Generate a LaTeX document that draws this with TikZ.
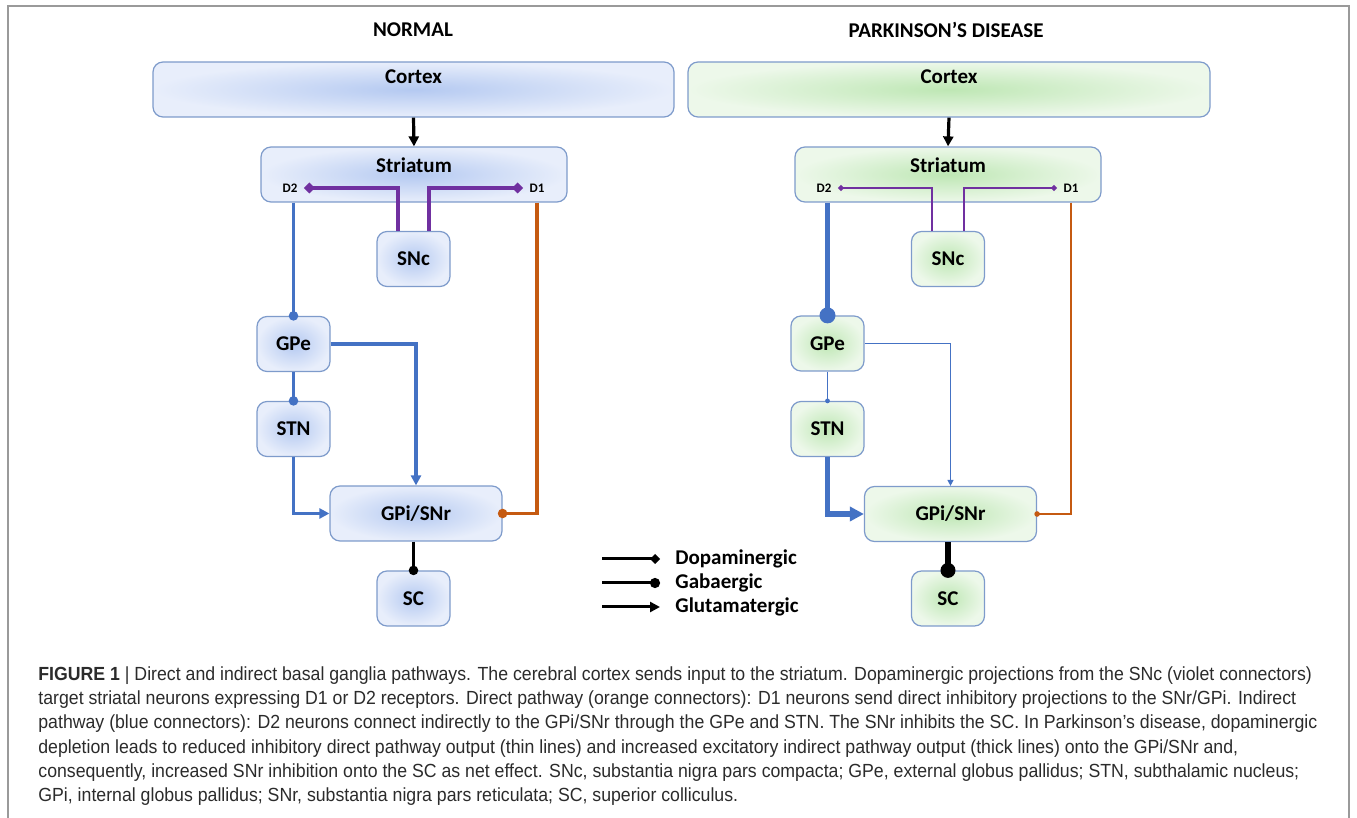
\documentclass[tikz,border=0pt]{standalone}
\usepackage{fontspec}
\setmainfont{Carlito}
\newfontfamily\capfont[FakeStretch=0.932]{Liberation Sans}
\usetikzlibrary{arrows.meta,calc}
\definecolor{boxline}{HTML}{7E9BCB}
\definecolor{bluein}{HTML}{B4C9F1}
\definecolor{blueout}{HTML}{E8EEFB}
\definecolor{greenin}{HTML}{BEE7B4}
\definecolor{greenout}{HTML}{EDF8EA}
\definecolor{indblue}{HTML}{4472C4}
\definecolor{dirorange}{HTML}{C55A11}
\definecolor{dopviolet}{HTML}{7030A0}
\definecolor{captext}{HTML}{2B2B2B}
\definecolor{framegray}{HTML}{9A9A9A}
\begin{document}
\begin{tikzpicture}[x=0.5pt,y=-0.5pt,
    box/.style={draw=boxline,line width=0.6pt,rounded corners=5pt,minimum height=27.5pt,inner sep=0pt,font=\bfseries\fontsize{10.5}{12}\selectfont},
    nbox/.style={box,inner color=bluein,outer color=blueout},
    pbox/.style={box,inner color=greenin,outer color=greenout},
    small/.style={minimum width=36.5pt},
    wide/.style={minimum width=86pt},
    topline/.style={text height=7pt,text depth=#1},
    dlab/.style={font=\bfseries\fontsize{6.5}{7}\selectfont,inner sep=3pt},
    title/.style={font=\bfseries\fontsize{10.5}{12}\selectfont},
    leg/.style={anchor=west,inner sep=0pt,font=\bfseries\fontsize{10.5}{12}\selectfont},
    captxt/.style={anchor=west,inner sep=0pt,text=captext,font=\capfont\fontsize{9.5}{11}\selectfont},
    ind/.style={indblue,line width=1.6pt},
    indthick/.style={indblue,line width=2.7pt},
    indthin/.style={indblue,line width=0.65pt},
    dir/.style={dirorange,line width=1.6pt},
    dirthin/.style={dirorange,line width=0.65pt},
    dop/.style={dopviolet,line width=1.55pt},
    dopthin/.style={dopviolet,line width=0.7pt},
    gpisc/.style={black,line width=1.6pt},
    gpiscthick/.style={black,line width=3pt},
    legln/.style={black,line width=1.5pt},
    gdot/.style={circle,fill,inner sep=0pt,minimum size=#1},
    glu/.style={-{Triangle[length=#1,width=#1]}},
    dia/.style={-{Turned Square[length=#1,width=#1]}},
    gab/.style={-{Circle[length=#1]}}]
\useasboundingbox (0,0) rectangle (1357,818);
\draw[framegray,line width=0.7pt] (8,818) |- (1349,6) -- (1349,818);

% normal
\node (title1) at (413,30) [title] {NORMAL};
\node (ctx1) at (413.5,89.5) [nbox,minimum width=260.5pt,topline=13.3pt] {Cortex};
\node (str1) at (414,174.5) [nbox,minimum width=153pt,topline=9.3pt] {Striatum};
\node (d2a) at (290,188) [dlab] {D2};
\node (d1a) at (537,188) [dlab] {D1};
\node (snc1) at (413.5,259) [nbox,small] {SNc};
\node (gpe1) at (293.5,344) [nbox,small] {GPe};
\node (stn1) at (293.5,429) [nbox,small] {STN};
\node (gpi1) at (416,513.5) [nbox,wide] {GPi/SNr};
\node (sc1) at (413.5,598.5) [nbox,small] {SC};

\draw[gpisc,glu=5pt] (ctx1.south) -- (str1.north);
\draw[dop,dia=5.5pt] ($(snc1.north)+(-15.5,0)$) |- (d2a.east);
\draw[dop,dia=5.5pt] ($(snc1.north)+(15.5,0)$) |- (d1a.west);
\draw[ind] (gpe1.north |- str1.south) -- (gpe1.north) node[gdot=4.8pt] {};
\draw[ind] (gpe1.south) -- (stn1.north) node[gdot=4.8pt] {};
\draw[ind,glu=5pt] (gpe1.east) -| (gpi1.north);
\draw[ind,glu=5pt] (stn1.south) |- (gpi1.west);
\draw[dir] (d1a.south |- str1.south) |- (gpi1.east) node[gdot=4.8pt] {};
\draw[gpisc] (sc1.north |- gpi1.south) -- (sc1.north) node[gdot=4.8pt] {};

% parkinson
\node (title2) at (946,30) [title] {PARKINSON’S DISEASE};
\node (ctx2) at (949,89.5) [pbox,minimum width=261pt,topline=13.3pt] {Cortex};
\node (str2) at (948,174.5) [pbox,minimum width=153pt,topline=9.3pt] {Striatum};
\node (d2b) at (824,188) [dlab] {D2};
\node (d1b) at (1071,188) [dlab] {D1};
\node (snc2) at (948,259) [pbox,small] {SNc};
\node (gpe2) at (827.5,343.5) [pbox,small] {GPe};
\node (stn2) at (827.5,429) [pbox,small] {STN};
\node (gpi2) at (950.5,514) [pbox,wide] {GPi/SNr};
\node (sc2) at (948,598.5) [pbox,small] {SC};

\draw[gpisc,glu=5pt] (ctx2.south) -- (str2.north);
\draw[dopthin,dia=3.2pt] ($(snc2.north)+(-16,0)$) |- (d2b.east);
\draw[dopthin,dia=3.2pt] ($(snc2.north)+(16,0)$) |- (d1b.west);
\draw[indthick] (gpe2.north |- str2.south) -- (gpe2.north) node[gdot=8pt] {};
\draw[indthin] (gpe2.south) -- (stn2.north) node[gdot=2.4pt] {};
\draw[indthin,glu=3pt] (gpe2.east) -| (gpi2.north);
\draw[indthick,glu=7pt] (stn2.south) |- (gpi2.west);
\draw[dirthin] (d1b.south |- str2.south) |- (gpi2.east) node[gdot=2.8pt] {};
\draw[gpiscthick] (sc2.north |- gpi2.south) -- (sc2.north) node[gdot=7.5pt] {};

% legend
\coordinate (lgs1) at (602,559);
\coordinate (lgs2) at (602,583);
\coordinate (lgs3) at (602,607);
\node (lg1) at (675,559) [leg] {Dopaminergic};
\node (lg2) at (675,583) [leg] {Gabaergic};
\node (lg3) at (675,607) [leg] {Glutamatergic};
\draw[legln,dia=5pt,shorten >=7.5pt] (lgs1) -- (lg1.west);
\draw[legln,gab=5pt,shorten >=7.5pt] (lgs2) -- (lg2.west);
\draw[legln,glu=5pt,shorten >=7.5pt] (lgs3) -- (lg3.west);

% caption
\node (cap1) at (38,676) [captxt] {\textbf{FIGURE 1} | Direct and indirect basal ganglia pathways. The cerebral cortex sends input to the striatum. Dopaminergic projections from the SNc (violet connectors)};
\node (cap2) at (38,700) [captxt] {target striatal neurons expressing D1 or D2 receptors. Direct pathway (orange connectors): D1 neurons send direct inhibitory projections to the SNr/GPi. Indirect};
\node (cap3) at (38,724) [captxt] {pathway (blue connectors): D2 neurons connect indirectly to the GPi/SNr through the GPe and STN. The SNr inhibits the SC. In Parkinson’s disease, dopaminergic};
\node (cap4) at (38,749) [captxt] {depletion leads to reduced inhibitory direct pathway output (thin lines) and increased excitatory indirect pathway output (thick lines) onto the GPi/SNr and,};
\node (cap5) at (38,773) [captxt] {consequently, increased SNr inhibition onto the SC as net effect. SNc, substantia nigra pars compacta; GPe, external globus pallidus; STN, subthalamic nucleus;};
\node (cap6) at (38,797) [captxt] {GPi, internal globus pallidus; SNr, substantia nigra pars reticulata; SC, superior colliculus.};
\end{tikzpicture}
\end{document}
